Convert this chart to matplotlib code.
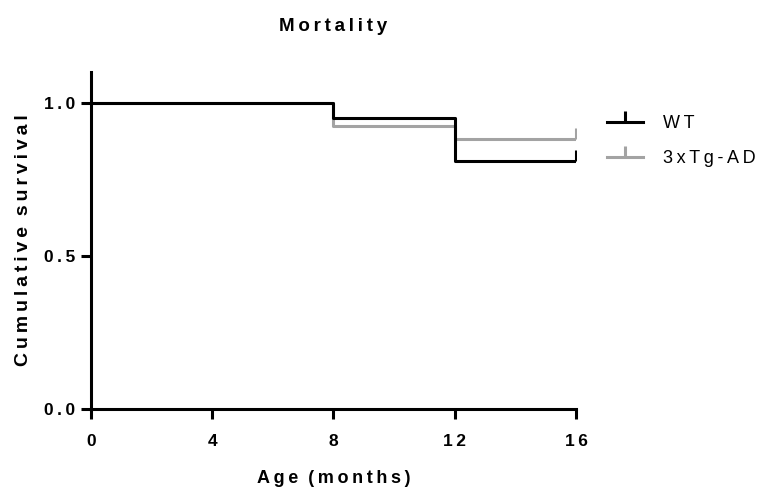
import numpy as np
import matplotlib.pyplot as plt

plt.rcParams['font.family'] = ['Liberation Sans', 'DejaVu Sans']

# survival steps (age in months, cumulative survival)
wt_age = [0, 8, 12, 16]
wt_surv = [1.0, 0.952, 0.81, 0.81]
tg_age = [0, 8, 12, 16]
tg_surv = [1.0, 0.925, 0.881, 0.881]

xticks = [0, 4, 8, 12, 16]
yticks = [0.0, 0.5, 1.0]


def spaced(s):
    # letter-spaced text like the original figure
    return '\u2009'.join(s).replace('\u2009 \u2009', '  ')


fig = plt.figure(figsize=(7.63, 4.88), dpi=100)
ax = fig.add_axes([0.119, 0.162, 0.636, 0.690])

ax.step(tg_age, tg_surv, where='post', color='#a3a3a3', lw=2.2,
        marker=2, markevery=[3], markersize=8, mew=2.2, label='3xTg-AD')
ax.step(wt_age, wt_surv, where='post', color='black', lw=2.2,
        marker=2, markevery=[3], markersize=8, mew=2.2, label='WT')

ax.set_xlim(0, 16)
ax.set_ylim(0, 1.1)
ax.set_xticks(xticks)
ax.set_xticklabels([spaced(str(t)) for t in xticks])
ax.set_yticks(yticks)
ax.set_yticklabels([spaced('%.1f' % t) for t in yticks])

for s in ['top', 'right']:
    ax.spines[s].set_visible(False)
for s in ['left', 'bottom']:
    ax.spines[s].set_linewidth(2.2)
ax.tick_params(width=2.2, length=7, labelsize=12.5)
ax.tick_params(axis='x', pad=11)
ax.tick_params(axis='y', pad=4)
for lab in ax.get_xticklabels() + ax.get_yticklabels():
    lab.set_fontweight('bold')

ax.set_xlabel(spaced('Age (months)'), fontsize=13, fontweight='bold', labelpad=15)
ax.set_ylabel(spaced('Cumulative survival'), fontsize=14, fontweight='bold', labelpad=9)
ax.set_title(spaced('Mortality'), fontsize=13.5, fontweight='bold', pad=30)

h, l = ax.get_legend_handles_labels()
leg = ax.legend(h[::-1], [spaced('WT'), spaced('3xTg-AD')], loc='upper left',
                bbox_to_anchor=(1.03, 0.92), frameon=False, fontsize=13,
                handlelength=2.0, labelspacing=1.0, handletextpad=1.1)

fig.savefig('out.png', dpi=100)
